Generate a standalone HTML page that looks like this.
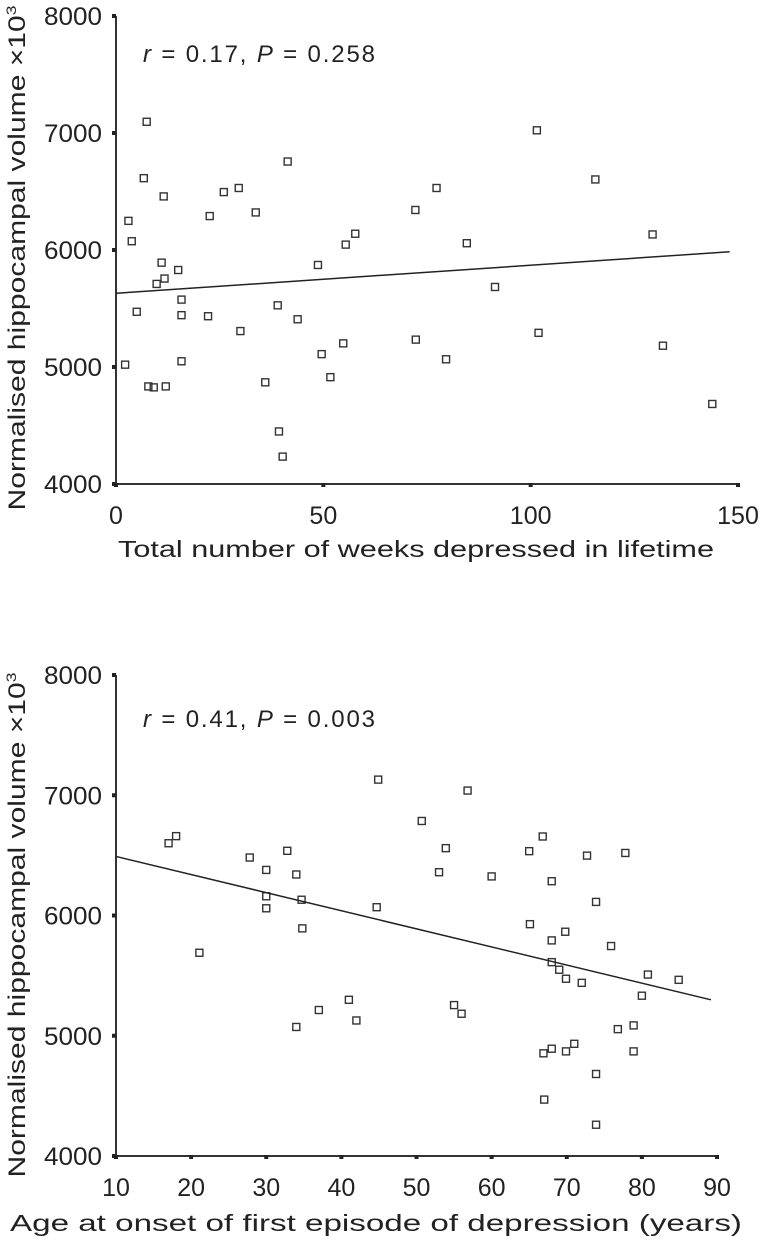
<!DOCTYPE html>
<html><head><meta charset="utf-8"><style>
html,body{margin:0;padding:0;background:#fff;}
svg{display:block;font-family:"Liberation Sans",sans-serif;}
</style></head><body>
<svg id="chart" width="760" height="1251" viewBox="0 0 760 1251">
</svg>
<script>
// Top panel data
const topX = [7.4,6.7,11.5,3.0,3.8,11.0,15.0,11.7,9.8,5.0,15.8,15.8,2.2,15.8,7.8,9.1,12.0,22.6,26.0,29.6,33.7,41.4,22.2,30.0,39.0,43.8,36.0,39.3,40.2,48.7,49.6,51.7,54.8,55.4,57.7,72.2,77.3,84.6,72.3,79.6,91.4,101.5,101.9,115.6,129.4,131.9,143.8];
const topY = [7096,6614,6458,6249,6075,5892,5829,5756,5710,5472,5576,5443,5020,5049,4834,4826,4834,6290,6495,6530,6321,6756,5434,5307,5527,5408,4869,4449,4234,5872,5110,4913,5202,6046,6139,6342,6530,6058,5234,5066,5684,7023,5292,6603,6133,5182,4684];
const topXTicks = [0,50,100,150];
const topYTicks = [4000,5000,6000,7000,8000];
const topFit = [0,5630,148,5985];
// Bottom panel data
const botX = [17.0,18.0,27.8,30.0,32.8,34.0,30.0,30.0,34.7,34.8,21.1,34.0,37.0,41.0,42.0,44.9,44.7,56.8,50.7,53.9,53.0,60.0,65.0,66.8,68.0,72.7,77.8,73.9,65.1,68.0,69.8,75.9,68.0,69.0,69.9,72.0,80.8,84.9,80.0,55.0,56.0,76.8,78.9,66.9,68.0,69.9,71.0,78.9,73.9,67.0,73.9];
const botY = [6601,6660,6482,6379,6538,6341,6160,6060,6131,5893,5690,5073,5214,5299,5127,7130,6069,7039,6786,6560,6360,6325,6535,6657,6285,6498,6520,6113,5928,5793,5865,5746,5612,5549,5474,5440,5509,5465,5333,5255,5183,5055,5086,4854,4892,4870,4933,4870,4682,4469,4260];
const botXTicks = [10,20,30,40,50,60,70,80,90];
const botYTicks = [4000,5000,6000,7000,8000];
const botFit = [10,6491,89.2,5299];

const NS="http://www.w3.org/2000/svg";
const svg=document.getElementById('chart');
function mk(tag,attrs,parent){const e=document.createElementNS(NS,tag);for(const k in attrs)e.setAttribute(k,attrs[k]);(parent||svg).appendChild(e);return e;}

function panel(cfg){
  const g=mk('g',{});
  
  
  const sx=v=>cfg.x0+(v-cfg.xmin)/(cfg.xmax-cfg.xmin)*(cfg.x1-cfg.x0);
  const sy=v=>cfg.y0-(v-cfg.ymin)/(cfg.ymax-cfg.ymin)*(cfg.y0-cfg.y1);
  const ax=mk('line',{x1:cfg.x0,y1:cfg.y0,x2:sx(cfg.xmax),y2:cfg.y0,stroke:'#333','stroke-width':2},g);
  
  
  const ay=mk('line',{x1:cfg.x0,y1:cfg.y0,x2:cfg.x0,y2:sy(cfg.ymax),stroke:'#333','stroke-width':2},g);
  
  
  cfg.yt.forEach(v=>{
    const t=mk('rect',{x:cfg.x0-4,y:sy(v)-2,width:4,height:4,fill:'#222'},g);
    
    
    const l=mk('text',{x:cfg.x0-14,y:sy(v)+9,'text-anchor':'end','font-size':25,fill:'#222',textLength:58,lengthAdjust:'spacingAndGlyphs'},g);
    l.textContent=v;
    
    
  });
  cfg.xt.forEach(v=>{
    const t=mk('rect',{x:sx(v)-2,y:cfg.y0-1,width:4,height:4,fill:'#222'},g);
    
    
    const l=mk('text',{x:sx(v),y:cfg.xlabY,'text-anchor':'middle','font-size':25,fill:'#222'},g);
    l.textContent=v;
    
    
  });
  cfg.px.forEach((v,i)=>{
    const r=mk('rect',{x:sx(v)-3.5,y:sy(cfg.py[i])-3.5,width:7,height:7,fill:'none',stroke:'#333','stroke-width':1.4},g);
    
    
  });
  const f=cfg.fit;
  const fl=mk('line',{x1:sx(f[0]),y1:sy(f[1]),x2:sx(f[2]),y2:sy(f[3]),stroke:'#222','stroke-width':1.5},g);
  
  
  const an=mk('text',{x:143,y:cfg.annY,'font-size':24,fill:'#222'},g);
  an.innerHTML='<tspan font-style="italic">r</tspan> = '+cfg.r+', <tspan font-style="italic">P</tspan> = '+cfg.p;
  an.setAttribute('textLength',232);
  
  
  const xt=mk('text',{x:cfg.xtX,y:cfg.xtY,'text-anchor':'middle','font-size':23,fill:'#222',textLength:cfg.xtW,lengthAdjust:'spacingAndGlyphs'},g);
  xt.textContent=cfg.xtitle;
  
  
  const yt=mk('text',{x:0,y:0,'text-anchor':'middle','font-size':24,fill:'#222',transform:'translate(25,'+cfg.ytC+') rotate(-90)',textLength:cfg.ytW,lengthAdjust:'spacingAndGlyphs'},g);
  yt.innerHTML='Normalised hippocampal volume ×10<tspan font-size="14" dy="-9">3</tspan>';
  
  
}

panel({name:'weeks-depressed-panel',x0:116,x1:738,xmin:0,xmax:150,y0:484,y1:16,ymin:4000,ymax:8000,
  xt:topXTicks,yt:topYTicks,px:topX,py:topY,fit:topFit,xlabY:524,annY:62,r:'0.17',p:'0.258',
  xtitle:'Total number of weeks depressed in lifetime',xtX:416,xtY:557,xtW:596,ytC:258,ytW:505});
panel({name:'age-onset-panel',x0:116,x1:717,xmin:10,xmax:90,y0:1156,y1:675,ymin:4000,ymax:8000,
  xt:botXTicks,yt:botYTicks,px:botX,py:botY,fit:botFit,xlabY:1196,annY:727,r:'0.41',p:'0.003',
  xtitle:'Age at onset of first episode of depression (years)',xtX:376,xtY:1231,xtW:732,ytC:925,ytW:505});
</script>
</body></html>
